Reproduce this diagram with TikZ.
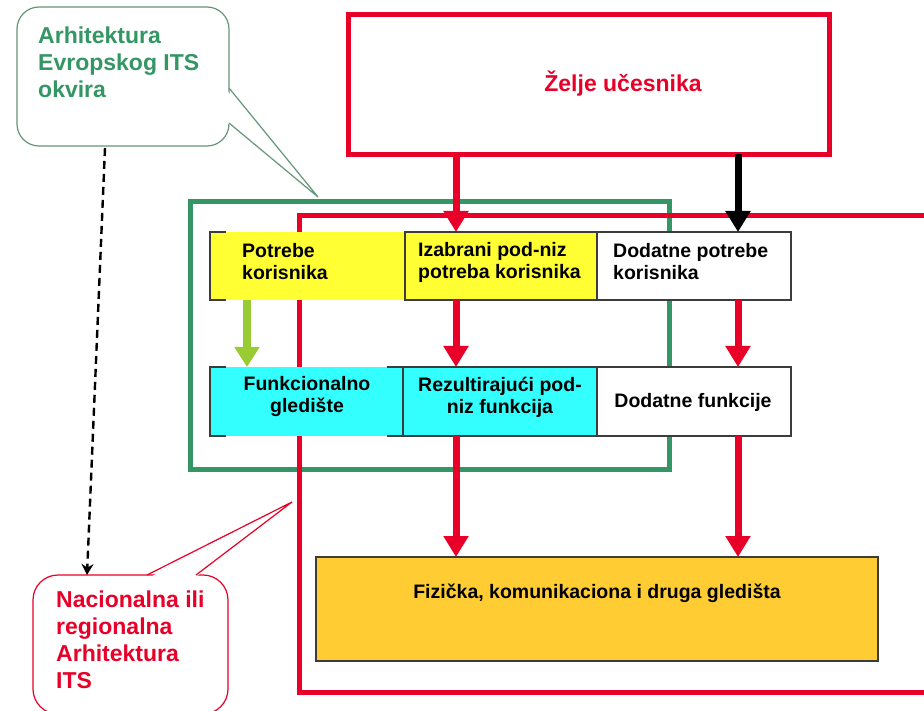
\documentclass[tikz,border=0pt]{standalone}
\usepackage{fontspec}
\setmainfont{Liberation Sans}
\usetikzlibrary{arrows.meta}
\definecolor{myred}{RGB}{232,0,40}
\definecolor{mygreen}{RGB}{51,150,100}
\definecolor{lgreen}{RGB}{153,204,51}
\definecolor{myyellow}{RGB}{255,255,51}
\definecolor{mycyan}{RGB}{51,255,255}
\definecolor{myorange}{RGB}{255,204,51}
\definecolor{callgreen}{RGB}{100,150,120}
\definecolor{boxgray}{RGB}{60,60,60}
\begin{document}
\begin{tikzpicture}[x=1pt,y=-1pt,
  box/.style={rectangle,inner sep=0pt,outer sep=0pt},
  edgebox/.style={box,draw=boxgray,line width=1.1pt},
  boxtext/.style={inner sep=0pt,font=\fontsize{19.5}{22}\selectfont\bfseries},
  calltext/.style={inner sep=0pt,align=left,anchor=west,font=\fontsize{23}{27}\selectfont\bfseries},
  redarrow/.style={myred,line width=7pt,-{Triangle[width=24pt,length=21pt]}},
  blackarrow/.style={black,line width=7pt,-{Triangle[width=24pt,length=21pt]}},
  greenarrow/.style={lgreen,line width=8pt,-{Triangle[width=24pt,length=20pt]}},
  dasharrow/.style={black,line width=2.4pt,dash pattern=on 8pt off 5pt,-{Stealth[length=11pt,width=12pt]}}
]
\useasboundingbox (0,0) rectangle (924,711);
\fill[white] (0,0) rectangle (924,711);

% green callout
\draw[callgreen,line width=1.2pt,fill=white,rounded corners=22pt] (17,7) rectangle (229,146);
\fill[white] (226,89.5) -- (318,197) -- (226,121.5) -- cycle;
\draw[callgreen,line width=1.2pt,line join=miter] (229,88) -- (318,197) -- (229,123);
\node[calltext,text=mygreen] (eu) at (38,62) {Arhitektura\\Evropskog ITS\\okvira};

% red callout
\draw[myred,line width=1.2pt,fill=white,rounded corners=25pt] (33,575) rectangle (228,714);
\fill[white] (148.5,578) -- (292,502) -- (194.5,578) -- cycle;
\draw[myred,line width=1.2pt,line join=miter] (147,575) -- (292,502) -- (196,575);
\node[calltext,text=myred] (nat) at (56,640) {Nacionalna ili\\regionalna\\Arhitektura\\ITS};

\coordinate (eubot) at (105,148);
\coordinate (nattop) at (87,575);
\draw[dasharrow] (eubot) -- (nattop);

% frames
\draw[mygreen,line width=5pt] (190.5,201.5) rectangle (669.5,469.5);
\draw[myred,line width=5pt] (299.5,215.5) rectangle (960,692.5);

% top box
\node[box,draw=myred,line width=5pt,minimum width=481pt,minimum height=140pt] (top) at (589,84.5) {};
\node[inner sep=0pt,text=myred,font=\fontsize{23}{27}\selectfont\bfseries] (ttop) at (623,84) {Želje učesnika};

% coordinates for arrow columns
\coordinate (cx) at (456,0);
\coordinate (dx) at (738,0);
\coordinate (gx) at (247,0);

% boxes
\node[box,fill=myyellow,minimum width=195pt,minimum height=68pt] (yl) at (307.5,266) {};
\draw[boxgray,line width=1.1pt] ([xshift=16pt]yl.north west) -- (yl.north west) -- (yl.south west) -- ([xshift=16pt]yl.south west);
\node[edgebox,fill=myyellow,minimum width=192pt,minimum height=68pt] (ym) at (501,266) {};
\node[edgebox,fill=white,minimum width=194pt,minimum height=68pt] (wt) at (694,266) {};
\node[box,fill=mycyan,minimum width=193pt,minimum height=69pt] (cl) at (306.5,401.5) {};
\draw[boxgray,line width=1.1pt] ([xshift=16pt]cl.north west) -- (cl.north west) -- (cl.south west) -- ([xshift=16pt]cl.south west);
\draw[boxgray,line width=1.1pt] ([xshift=-16pt]cl.north east) -- (cl.north east);
\draw[boxgray,line width=1.1pt] ([xshift=-16pt]cl.south east) -- (cl.south east);
\node[edgebox,fill=mycyan,minimum width=194pt,minimum height=69pt] (cm) at (500,401.5) {};
\node[edgebox,fill=white,minimum width=194pt,minimum height=69pt] (wb) at (694,401.5) {};
\node[edgebox,fill=myorange,minimum width=562pt,minimum height=104pt] (phys) at (597,609) {};

% texts
\node[boxtext,align=left,anchor=west] (tpk) at (242,262) {Potrebe\\korisnika};
\node[boxtext,align=left,anchor=west] (tiz) at (418,262) {Izabrani pod-niz\\potreba korisnika};
\node[boxtext,align=left,anchor=west] (tdp) at (613,262) {Dodatne potrebe\\korisnika};
\node[boxtext,align=center] (tfg) at (307,397) {Funkcionalno\\gledište};
\node[boxtext,align=center] (trp) at (500,397) {Rezultirajući pod-\\niz funkcija};
\node[boxtext] (tdf) at (693,402) {Dodatne funkcije};
\node[boxtext] (tfiz) at (597,593) {Fizička, komunikaciona i druga gledišta};

% arrows
\draw[redarrow] (top.south -| cx) -- (ym.north -| cx);
\draw[blackarrow] (top.south -| dx) -- (wt.north -| dx);
\draw[greenarrow] (yl.south -| gx) -- (cl.north -| gx);
\draw[redarrow] (ym.south -| cx) -- (cm.north -| cx);
\draw[redarrow] (wt.south -| dx) -- (wb.north -| dx);
\draw[redarrow] (cm.south -| cx) -- (phys.north -| cx);
\draw[redarrow] (wb.south -| dx) -- (phys.north -| dx);
\end{tikzpicture}
\end{document}
